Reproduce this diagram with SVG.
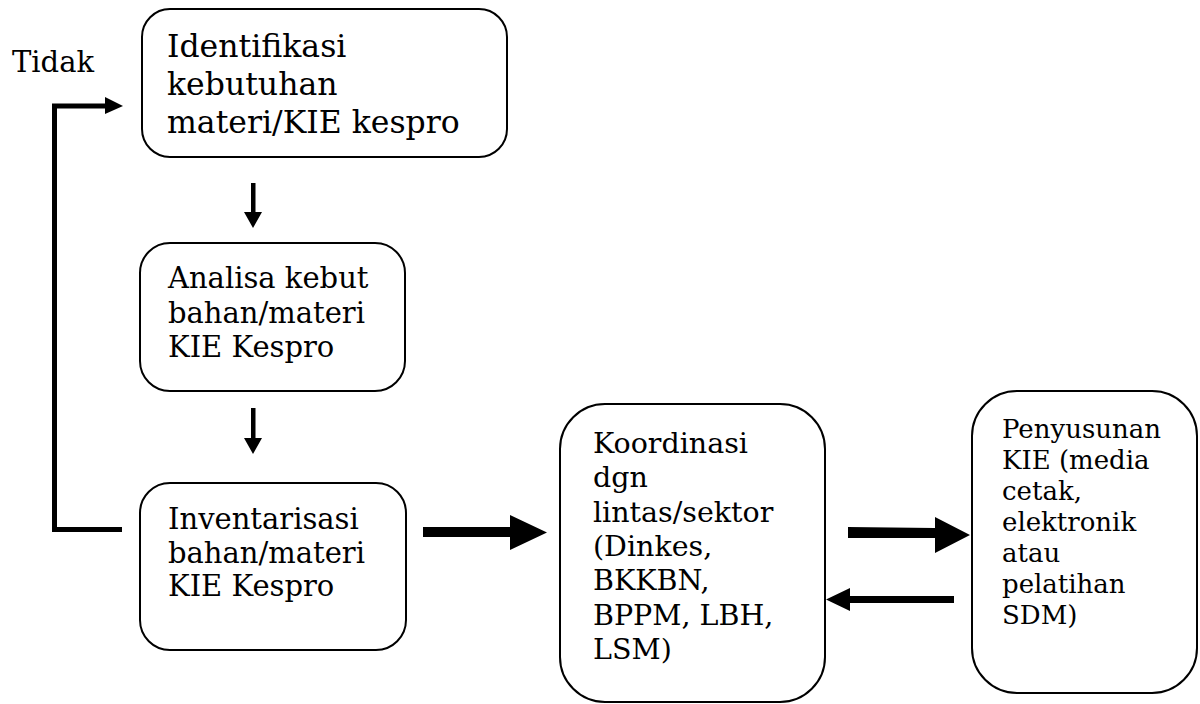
<svg xmlns="http://www.w3.org/2000/svg" width="1200" height="704" viewBox="0 0 1200 704">
  <style>
    .box { fill: #ffffff; stroke: #000000; stroke-width: 2; }
    .t { font-family: "DejaVu Serif", "Liberation Serif", serif; fill: #000000; }
    .t31 { font-size: 31.5px; }
    .t29 { font-size: 29px; }
    .t28 { font-size: 28.5px; }
    .t26 { font-size: 26px; }
    .arrow { fill: #000000; stroke: none; }
    .line { fill: none; stroke: #000000; stroke-width: 5; }
  </style>
  <rect width="1200" height="704" fill="#ffffff"/>

  <g id="label-tidak">
    <text class="t t29" x="12" y="72">Tidak</text>
  </g>

  <g id="node-identifikasi">
    <rect class="box" x="142" y="9" width="365" height="148" rx="28" ry="28"/>
    <text class="t t31" x="167" y="57">Identifikasi</text>
    <text class="t t31" x="167" y="95">kebutuhan</text>
    <text class="t t31" x="167" y="133">materi/KIE kespro</text>
  </g>

  <g id="node-analisa">
    <rect class="box" x="140" y="243" width="265" height="148" rx="30" ry="30"/>
    <text class="t t29" x="168" y="288">Analisa kebut</text>
    <text class="t t29" x="168" y="323">bahan/materi</text>
    <text class="t t29" x="168" y="357">KIE Kespro</text>
  </g>

  <g id="node-inventarisasi">
    <rect class="box" x="140" y="483" width="266" height="167" rx="30" ry="30"/>
    <text class="t t29" x="168" y="529">Inventarisasi</text>
    <text class="t t29" x="168" y="563">bahan/materi</text>
    <text class="t t29" x="168" y="596">KIE Kespro</text>
  </g>

  <g id="node-koordinasi">
    <rect class="box" x="560" y="404" width="265" height="298" rx="45" ry="45"/>
    <text class="t t28" x="593" y="453">Koordinasi</text>
    <text class="t t28" x="593" y="487">dgn</text>
    <text class="t t28" x="593" y="522">lintas/sektor</text>
    <text class="t t28" x="593" y="556">(Dinkes,</text>
    <text class="t t28" x="593" y="590">BKKBN,</text>
    <text class="t t28" x="593" y="625">BPPM, LBH,</text>
    <text class="t t28" x="593" y="659">LSM)</text>
  </g>

  <g id="node-penyusunan">
    <rect class="box" x="972" y="391" width="225" height="302" rx="45" ry="45"/>
    <text class="t t26" x="1002" y="438">Penyusunan</text>
    <text class="t t26" x="1002" y="469">KIE (media</text>
    <text class="t t26" x="1002" y="500">cetak,</text>
    <text class="t t26" x="1002" y="531">elektronik</text>
    <text class="t t26" x="1002" y="562">atau</text>
    <text class="t t26" x="1002" y="593">pelatihan</text>
    <text class="t t26" x="1002" y="624">SDM)</text>
  </g>

  <g id="connectors">
    <!-- Identifikasi to Analisa -->
    <polygon class="arrow" points="251,183 255.5,183 255.5,212 262,212 253,228 244,212 251,212"/>
    <!-- Analisa to Inventarisasi -->
    <polygon class="arrow" points="251,408 255.5,408 255.5,438 262,438 253,454 244,438 251,438"/>
    <!-- Inventarisasi back to Identifikasi (Tidak) -->
    <polyline class="line" points="122,529.5 54.5,529.5 54.5,106 106,106"/>
    <polygon class="arrow" points="105,97 123,106 105,114"/>
    <!-- Inventarisasi to Koordinasi -->
    <polygon class="arrow" points="423,527 510,527 510,515 547,532.5 510,550 510,537 423,537"/>
    <!-- Koordinasi to Penyusunan -->
    <polygon class="arrow" points="848,527 935,528 935,517 970,535 935,553 935,538 848,538"/>
    <!-- Penyusunan back to Koordinasi -->
    <polygon class="arrow" points="954,596 850,596 850,588 826,599.5 850,611 850,603 954,603"/>
  </g>
</svg>
